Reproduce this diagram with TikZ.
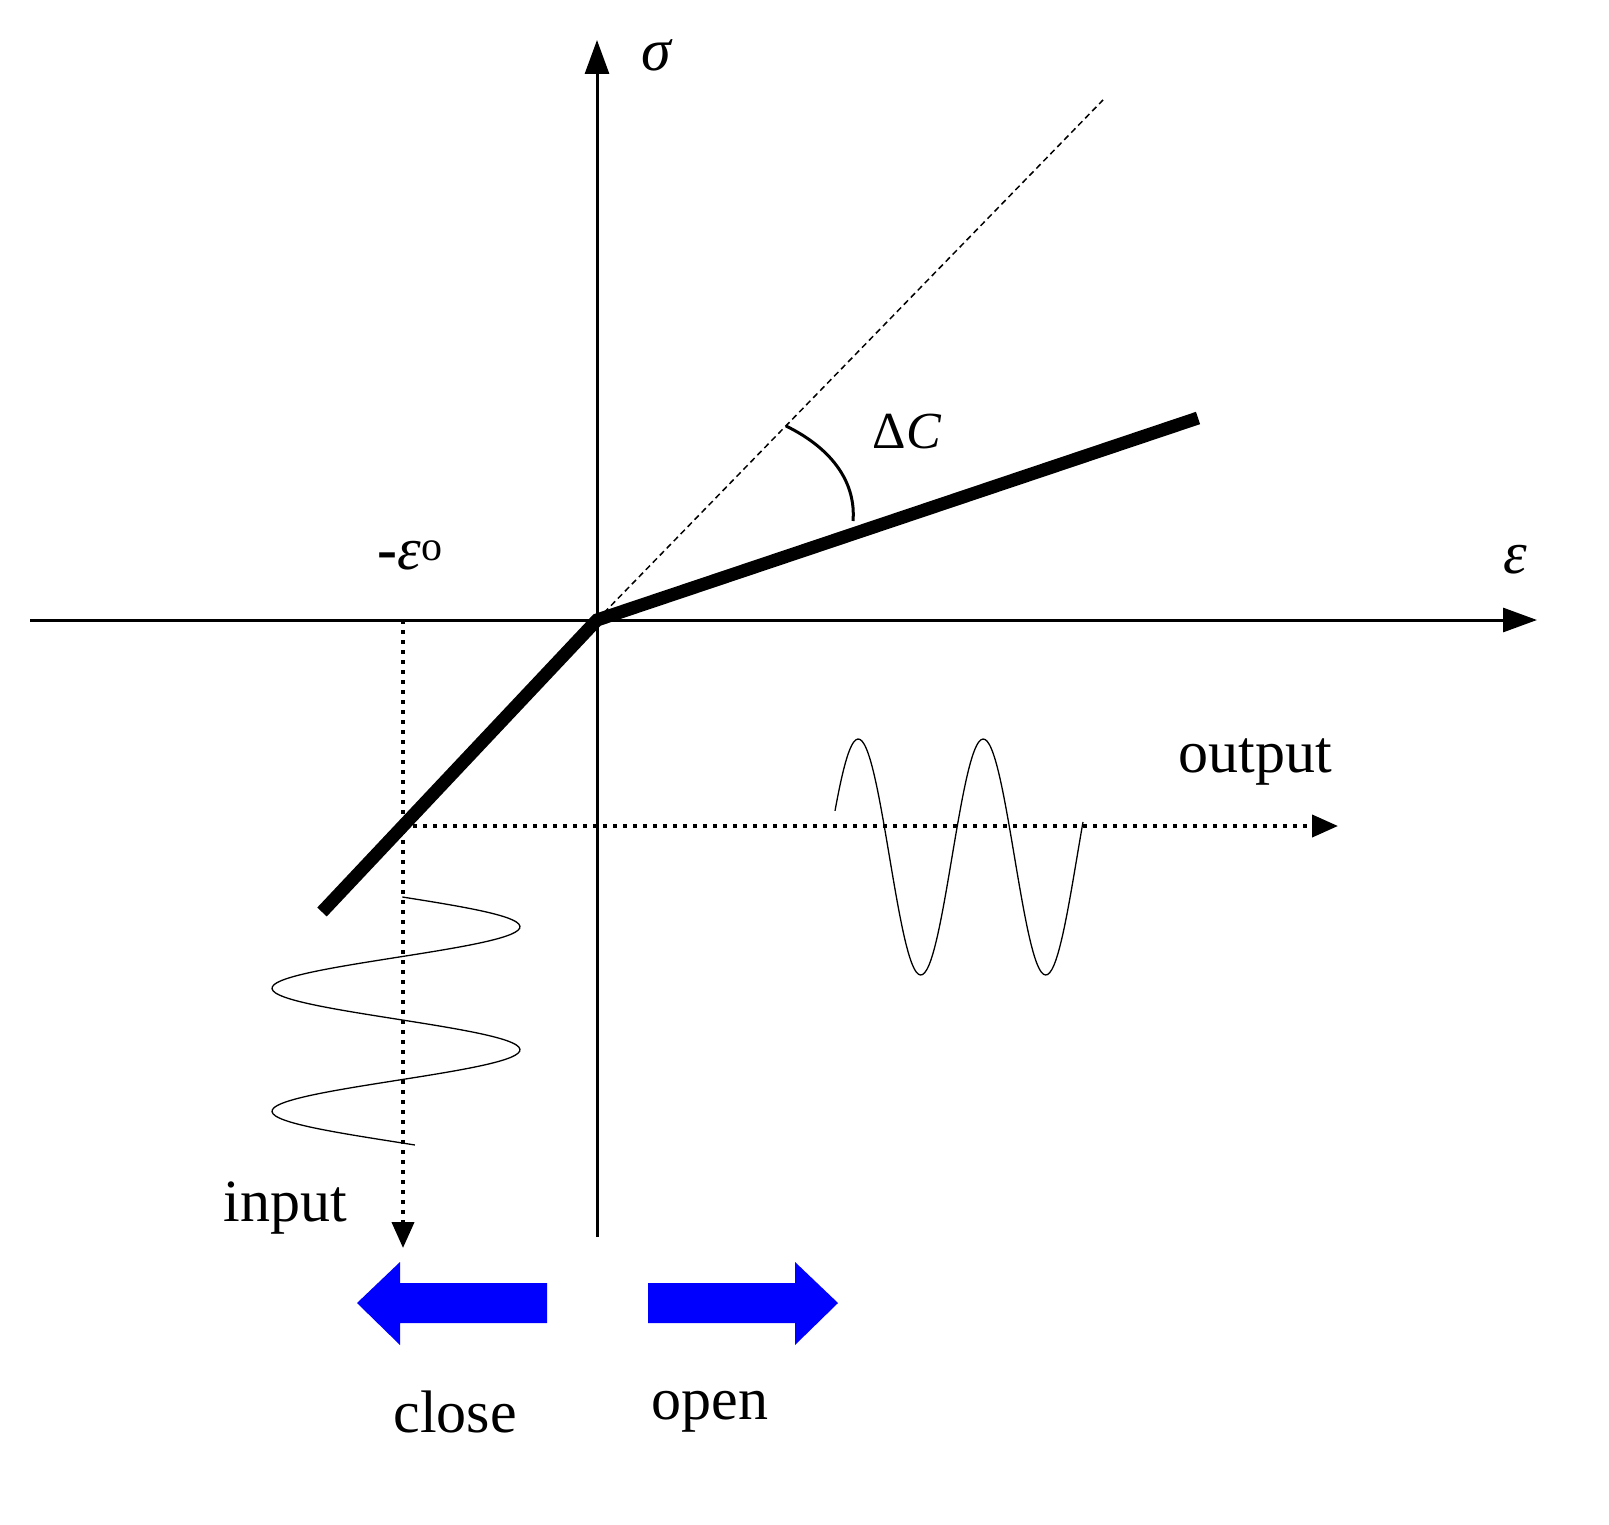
\documentclass[tikz,border=0pt]{standalone}
\usepackage{fontspec}
\setmainfont{Liberation Serif}
\usetikzlibrary{arrows.meta}
\definecolor{arrowblue}{RGB}{0,0,255}
\tikzset{every picture/.style={line width=3pt}}
\tikzset{lbl/.style={inner sep=0pt,font=\fontsize{60}{66}\selectfont},
  dotline/.style={line width=4pt,dash pattern={on 4pt off 6pt},-{Triangle[length=26pt,width=22pt]}},
  blk/.style={fill=arrowblue,draw=none}}

\begin{document}
\begin{tikzpicture}[x=1pt,y=1pt,yscale=-1,xscale=1]
\useasboundingbox (0,0) rectangle (1609,1525);

%Axes
\coordinate (O) at (597,620);
\coordinate (xs) at (30,620);
\coordinate (xe) at (1537,620);
\coordinate (ys) at (597,1237);
\coordinate (ye) at (597,40);
\draw [-{Triangle[length=34pt,width=24pt]}] (xs) -- (xe);
\draw [-{Triangle[length=34pt,width=24pt]}] (ys) -- (ye);

%Straight Lines: dashed slope
\coordinate (dash) at (1103,100);
\draw [line width=1.5pt,dash pattern={on 6pt off 4pt}] (O) -- (dash);
%Straight Lines: thick response
\coordinate (lo) at (322,912);
\coordinate (hi) at (1198,418);
\draw [line width=13pt] (lo) -- (O) -- (hi);
%Arc
\draw [line width=3pt] (786,426) .. controls (835,450) and (856,485) .. (853,521);

%Dotted guides
\coordinate (ein) at (403,620);
\coordinate (inend) at (403,1248);
\coordinate (cross) at (403,826);
\coordinate (outend) at (1338,826);
\draw [dotline] (ein) -- (inend);
\draw [dotline] (cross) -- (outend);

%Output wave
\draw [line width=1.3pt,domain=835:1083,samples=120,smooth] plot (\x,{857-118*sin(2.88*(\x-827))});
%Input wave
\draw [line width=1.3pt,domain=897:1145,samples=120,smooth] plot ({396+124*sin(2.9268*(\x-896))},\x);

%Blue arrows
\path [blk] (547,1283) -- (400,1283) -- (400,1262) -- (357,1303) -- (400,1345) -- (400,1323) -- (547,1323) -- cycle;
\path [blk] (648,1283) -- (795,1283) -- (795,1262) -- (838,1303) -- (795,1345) -- (795,1323) -- (648,1323) -- cycle;

% Text Nodes
\node (sig) [lbl] at (657,55) {\textit{σ}};
\node (eps) [lbl] at (1515,560) {\textit{ε}};
\node (eps0) [lbl] at (410,555) {\textbf{-}\textit{ε}\textsuperscript{o}};
\node (dc) [lbl,font=\fontsize{52}{58}\selectfont] at (907,432) {Δ\textit{C}};
\node (out) [lbl] at (1255,762) {output};
\node (in) [lbl] at (285,1208) {input};
\node (cl) [lbl] at (455,1412) {close};
\node (op) [lbl] at (710,1412) {open};
\end{tikzpicture}
\end{document}
